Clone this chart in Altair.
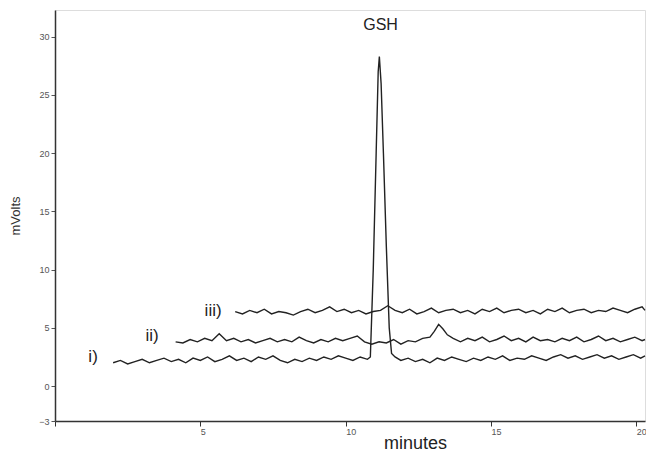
import altair as alt
import pandas as pd

# Trace i) (with GSH peak)
t1 = [2.0, 2.25, 2.5, 2.75, 3.0, 3.25, 3.5, 3.75, 4.0, 4.25, 4.5, 4.75, 5.0, 5.25, 5.5, 5.75,
      6.0, 6.25, 6.5, 6.75, 7.0, 7.25, 7.5, 7.75, 8.0, 8.25, 8.5, 8.75, 9.0, 9.25, 9.5, 9.75,
      10.0, 10.25, 10.5, 10.75, 10.85, 10.95, 11.05, 11.12, 11.16, 11.22, 11.3, 11.4, 11.5, 11.58,
      11.7, 11.9, 12.15, 12.4, 12.65, 12.9, 13.15, 13.4, 13.65, 13.9, 14.15, 14.4, 14.65, 14.9,
      15.15, 15.4, 15.65, 15.9, 16.15, 16.4, 16.65, 16.9, 17.15, 17.4, 17.65, 17.9, 18.15, 18.4,
      18.65, 18.9, 19.15, 19.4, 19.65, 19.9, 20.15, 20.3]
v1 = [2.0, 2.2, 1.9, 2.1, 2.3, 2.0, 2.2, 2.4, 2.1, 2.3, 2.0, 2.4, 2.2, 2.5, 2.1, 2.3,
      2.6, 2.2, 2.4, 2.1, 2.5, 2.3, 2.6, 2.2, 2.0, 2.3, 2.1, 2.4, 2.2, 2.5, 2.3, 2.6,
      2.4, 2.2, 2.5, 2.3, 2.5, 10.0, 20.0, 27.0, 28.3, 26.0, 20.0, 12.0, 5.0, 2.8,
      2.5, 2.2, 2.4, 2.1, 2.3, 2.0, 2.4, 2.2, 2.5, 2.3, 2.1, 2.4, 2.2, 2.5,
      2.3, 2.6, 2.2, 2.4, 2.3, 2.6, 2.4, 2.2, 2.5, 2.7, 2.4, 2.6, 2.3, 2.5,
      2.7, 2.4, 2.6, 2.3, 2.5, 2.7, 2.4, 2.6]

# Trace ii)
t2 = [4.15, 4.4, 4.65, 4.9, 5.15, 5.4, 5.65, 5.9, 6.15, 6.4, 6.65, 6.9, 7.15, 7.4, 7.65, 7.9,
      8.15, 8.4, 8.65, 8.9, 9.15, 9.4, 9.65, 9.9, 10.15, 10.4, 10.65, 10.9, 11.15, 11.4, 11.65,
      11.9, 12.15, 12.4, 12.65, 12.9, 13.05, 13.2, 13.35, 13.5, 13.7, 13.95, 14.2, 14.45, 14.7,
      14.95, 15.2, 15.45, 15.7, 15.95, 16.2, 16.45, 16.7, 16.95, 17.2, 17.45, 17.7, 17.95, 18.2,
      18.45, 18.7, 18.95, 19.2, 19.45, 19.7, 19.95, 20.2, 20.3]
v2 = [3.8, 3.7, 4.0, 3.8, 4.1, 3.9, 4.5, 3.9, 4.1, 3.8, 4.0, 3.7, 3.9, 4.1, 3.8, 4.0,
      3.8, 4.2, 3.9, 3.7, 4.0, 3.8, 4.1, 3.9, 4.1, 4.3, 3.8, 3.6, 3.8, 3.7, 4.0,
      3.6, 3.9, 3.8, 4.1, 4.2, 4.7, 5.3, 4.9, 4.4, 4.1, 3.8, 4.1, 3.9, 4.2,
      3.8, 4.0, 4.3, 3.9, 4.1, 3.8, 4.2, 3.9, 4.0, 3.8, 4.1, 3.9, 4.2, 3.8,
      4.0, 4.3, 3.9, 4.1, 3.8, 4.0, 4.2, 3.9, 4.0]

# Trace iii)
t3 = [6.2, 6.45, 6.7, 6.95, 7.2, 7.45, 7.7, 7.95, 8.2, 8.45, 8.7, 8.95, 9.2, 9.45, 9.7, 9.95,
      10.2, 10.45, 10.7, 10.95, 11.2, 11.45, 11.7, 11.95, 12.2, 12.45, 12.7, 12.95, 13.2, 13.45,
      13.7, 13.95, 14.2, 14.45, 14.7, 14.95, 15.2, 15.45, 15.7, 15.95, 16.2, 16.45, 16.7, 16.95,
      17.2, 17.45, 17.7, 17.95, 18.2, 18.45, 18.7, 18.95, 19.2, 19.45, 19.7, 19.95, 20.2, 20.3]
v3 = [6.4, 6.2, 6.5, 6.3, 6.6, 6.2, 6.4, 6.3, 6.1, 6.4, 6.6, 6.3, 6.5, 6.8, 6.4, 6.6,
      6.3, 6.5, 6.2, 6.4, 6.5, 6.9, 6.5, 6.3, 6.6, 6.2, 6.4, 6.7, 6.3, 6.5,
      6.6, 6.3, 6.5, 6.2, 6.6, 6.4, 6.7, 6.3, 6.5, 6.6, 6.3, 6.5, 6.2, 6.6,
      6.4, 6.7, 6.3, 6.5, 6.6, 6.3, 6.5, 6.4, 6.7, 6.5, 6.3, 6.6, 6.8, 6.5]

trace_names = ["i", "ii", "iii"]
label_texts = ["i)", "ii)", "iii)"]
label_x = [1.31, 3.34, 5.44]
label_y = [2.5, 4.3, 6.45]
peak_label = "GSH"
peak_x = [11.2]
peak_y = [31.0]

x_ticks = [0, 5, 10, 15, 20]
y_ticks = [-3, 0, 5, 10, 15, 20, 25, 30]

rows = []
for name, ts, vs in zip(trace_names, [t1, t2, t3], [v1, v2, v3]):
    for t, v in zip(ts, vs):
        rows.append({"trace": name, "t": t, "v": v})
df = pd.DataFrame(rows)

FONT = "Liberation Sans"

xscale = alt.Scale(domain=[0, 20.3], nice=False, zero=False)
yscale = alt.Scale(domain=[-3, 32.3], nice=False, zero=False)

lines = alt.Chart(df).mark_line(color="#222222", strokeWidth=1.4).encode(
    x=alt.X("t:Q", scale=xscale, title="minutes",
            axis=alt.Axis(values=x_ticks, labelExpr="datum.value == 0 ? '' : datum.label",
                          grid=False, domainColor="#333333", domainWidth=1.5,
                          tickColor="#333333", tickSize=5, labelColor="#555555",
                          labelFont=FONT, labelFontSize=9, labelAlign="left", labelPadding=1,
                          titleFont=FONT, titleFontSize=18, titleFontWeight="normal",
                          titleColor="#222222", titleX=360, titleY=13,
                          titleBaseline="top")),
    y=alt.Y("v:Q", scale=yscale, title="mVolts",
            axis=alt.Axis(values=y_ticks, grid=False, domainColor="#333333", domainWidth=1.5,
                          tickColor="#555555", tickSize=4, labelColor="#555555",
                          labelFont=FONT, labelFontSize=9, labelPadding=2,
                          titleFont=FONT, titleFontSize=13, titleFontWeight="normal",
                          titleColor="#333333", titlePadding=16)),
    detail="trace:N",
    order="t:Q",
)

lab_df = pd.DataFrame({"x": label_x, "y": label_y, "text": label_texts})
labels = alt.Chart(lab_df).mark_text(font=FONT, fontSize=17, color="#222222").encode(
    x=alt.X("x:Q", scale=xscale), y=alt.Y("y:Q", scale=yscale), text="text:N")

gsh_df = pd.DataFrame({"x": peak_x, "y": peak_y, "text": [peak_label]})
gsh = alt.Chart(gsh_df).mark_text(font=FONT, fontSize=16, color="#222222").encode(
    x=alt.X("x:Q", scale=xscale), y=alt.Y("y:Q", scale=yscale), text="text:N")

chart = alt.layer(lines, labels, gsh).properties(
    width=590, height=411,
    autosize=alt.AutoSizeParams(type="none"),
    padding={"left": 55, "top": 10, "right": 1, "bottom": 37},
).configure_view(stroke=None).configure(background="white")

chart.save("out.html", embed_options={"renderer": "svg", "actions": False})
